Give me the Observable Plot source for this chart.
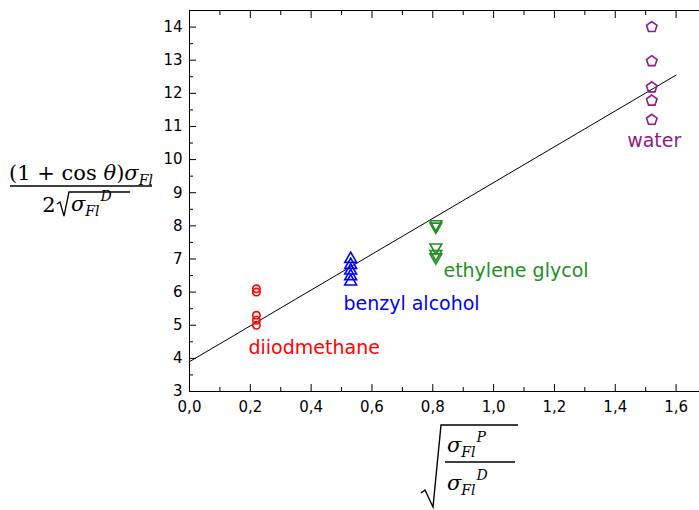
<!DOCTYPE html>
<html><head><meta charset="utf-8">
<script src="https://cdn.jsdelivr.net/npm/d3@7"></script>
<script src="https://cdn.jsdelivr.net/npm/@observablehq/plot@0.6"></script>
<style>
html,body{margin:0;padding:0;background:#fff;overflow:hidden;}
</style></head><body><div id="chart"></div>
<script>
// ---- data ----
const solvents = ["diiodmethane", "benzyl alcohol", "ethylene glycol", "water"];
const solventX = [0.22, 0.53, 0.81, 1.52];
const diiodmethaneY = [6.1, 6.0, 5.3, 5.15, 5.0];
const benzylAlcoholY = [7.0, 6.82, 6.65, 6.48, 6.32];
const ethyleneGlycolY = [8.05, 7.98, 7.35, 7.15, 7.05];
const waterY = [14.0, 12.97, 12.18, 11.78, 11.2];
const seriesY = [diiodmethaneY, benzylAlcoholY, ethyleneGlycolY, waterY];
const colors = ["#ff0000", "#0000ff", "#1f8f1f", "#8c1a8c"];
const fitX = [0, 1.6];
const fitY = [3.9, 12.55];
const labelX = [0.194, 0.506, 0.835, 1.439];
const labelY = [4.33, 5.65, 6.65, 10.56];
const xMajorTicks = [0, 0.2, 0.4, 0.6, 0.8, 1.0, 1.2, 1.4, 1.6];
const xMinorTicks = [0.1, 0.3, 0.5, 0.7, 0.9, 1.1, 1.3, 1.5];
const yMajorTicks = [3, 4, 5, 6, 7, 8, 9, 10, 11, 12, 13, 14];
const yMinorTicks = [3.5, 4.5, 5.5, 6.5, 7.5, 8.5, 9.5, 10.5, 11.5, 12.5, 13.5, 14.5];

// ---- symbols ----
const triangleDown = {draw(ctx, size) {
  const y = -Math.sqrt(size / (Math.sqrt(3) * 3));
  ctx.moveTo(0, -y * 2); ctx.lineTo(-Math.sqrt(3) * y, y); ctx.lineTo(Math.sqrt(3) * y, y); ctx.closePath();
}};
const pentagon = {draw(ctx, size) {
  const R = Math.sqrt(size / (2.5 * Math.sin(2 * Math.PI / 5)));
  for (let i = 0; i < 5; i++) {
    const a = -Math.PI / 2 + i * 2 * Math.PI / 5;
    if (i === 0) ctx.moveTo(R * Math.cos(a), R * Math.sin(a)); else ctx.lineTo(R * Math.cos(a), R * Math.sin(a));
  }
  ctx.closePath();
}};
const symbols = ["circle", "triangle", triangleDown, pentagon];
const radii = [3.7, 4.4, 4.4, 4.8];

const points = solvents.map((s, i) => seriesY[i].map(y => ({solvent: s, x: solventX[i], y})));
const fit = fitX.map((x, i) => ({x, y: fitY[i]}));
const labels = solvents.map((s, i) => ({text: s, x: labelX[i], y: labelY[i], color: colors[i]}));

const fmt = d => d.toFixed(1).replace(".", ",");
const chart = Plot.plot({
  width: 699, height: 510,
  marginLeft: 189, marginRight: -7, marginTop: 10, marginBottom: 119,
  x: {domain: [0, 1.7]},
  y: {domain: [3, 14.5]},
  style: {fontFamily: "DejaVu Sans", fontSize: "15px", color: "black", background: "white"},
  marks: [
    Plot.frame({stroke: "black"}),
    Plot.axisX({ticks: xMajorTicks, tickSize: 0, tickPadding: 10, tickFormat: fmt, label: null, fontSize: 15}),
    Plot.axisX({ticks: xMajorTicks, tickSize: -7, tickFormat: () => "", label: null}),
    Plot.axisX({ticks: xMinorTicks, tickSize: -4, tickFormat: () => "", label: null}),
    Plot.axisX({anchor: "top", ticks: xMajorTicks, tickSize: -7, tickFormat: () => "", label: null}),
    Plot.axisX({anchor: "top", ticks: xMinorTicks, tickSize: -4, tickFormat: () => "", label: null}),
    Plot.axisY({ticks: yMajorTicks, tickSize: 0, tickPadding: 7, tickFormat: d => String(d), label: null, fontSize: 15}),
    Plot.axisY({ticks: yMajorTicks, tickSize: -7, tickFormat: () => "", label: null}),
    Plot.axisY({ticks: yMinorTicks, tickSize: -4, tickFormat: () => "", label: null}),
    Plot.line(fit, {x: "x", y: "y", stroke: "black", strokeWidth: 1}),
    ...points.map((pts, i) => Plot.dot(pts, {x: "x", y: "y", stroke: colors[i], fill: "none", strokeWidth: 1.6, symbol: symbols[i], r: radii[i]})),
    Plot.text(labels, {x: "x", y: "y", text: "text", fill: "color", textAnchor: "start", fontSize: 19, fontFamily: "DejaVu Sans"})
  ]
});
document.getElementById("chart").appendChild(chart);

// ---- math axis titles ----
const svg = d3.select(chart);
const serif = "DejaVu Serif";
// y title
const gy = svg.append("g").attr("font-family", serif).attr("fill", "black").attr("text-anchor", "start");
const num = gy.append("text").attr("x", 81).attr("y", 180).attr("text-anchor", "middle").attr("font-size", 21);
num.append("tspan").text("(1 + cos ");
num.append("tspan").attr("font-style", "italic").text("θ");
num.append("tspan").text(")");
num.append("tspan").attr("font-style", "italic").text("σ");
num.append("tspan").attr("font-style", "italic").attr("font-size", 14).attr("dy", 5).text("Fl");
gy.append("line").attr("x1", 10).attr("x2", 152).attr("y1", 186).attr("y2", 186).attr("stroke", "black").attr("stroke-width", 1.3);
gy.append("text").attr("x", 49).attr("y", 212).attr("text-anchor", "middle").attr("font-size", 21).text("2");
gy.append("path").attr("d", "M57,204 L60,202 L64,216 L69,192 L130,192").attr("fill", "none").attr("stroke", "black").attr("stroke-width", 1.3);
const den = gy.append("text").attr("x", 71).attr("y", 211).attr("font-size", 21);
den.append("tspan").attr("font-style", "italic").text("σ");
den.append("tspan").attr("font-style", "italic").attr("font-size", 14).attr("dy", 5).text("Fl");
den.append("tspan").attr("font-style", "italic").attr("font-size", 14).attr("dx", 1).attr("dy", -15).text("D");

// x title
const gx = svg.append("g").attr("font-family", serif).attr("fill", "black").attr("text-anchor", "start");
gx.append("path").attr("d", "M421,493 L425,490 L433,507 L441,425 L518,425").attr("fill", "none").attr("stroke", "black").attr("stroke-width", 1.4);
const xn = gx.append("text").attr("x", 447).attr("y", 452).attr("font-size", 21);
xn.append("tspan").attr("font-style", "italic").text("σ");
xn.append("tspan").attr("font-style", "italic").attr("font-size", 14).attr("dy", 5).text("Fl");
xn.append("tspan").attr("font-style", "italic").attr("font-size", 14).attr("dx", 1).attr("dy", -15).text("P");
gx.append("line").attr("x1", 445).attr("x2", 515).attr("y1", 462).attr("y2", 462).attr("stroke", "black").attr("stroke-width", 1.3);
const xd = gx.append("text").attr("x", 447).attr("y", 490).attr("font-size", 21);
xd.append("tspan").attr("font-style", "italic").text("σ");
xd.append("tspan").attr("font-style", "italic").attr("font-size", 14).attr("dy", 5).text("Fl");
xd.append("tspan").attr("font-style", "italic").attr("font-size", 14).attr("dx", 1).attr("dy", -15).text("D");
</script></body></html>
